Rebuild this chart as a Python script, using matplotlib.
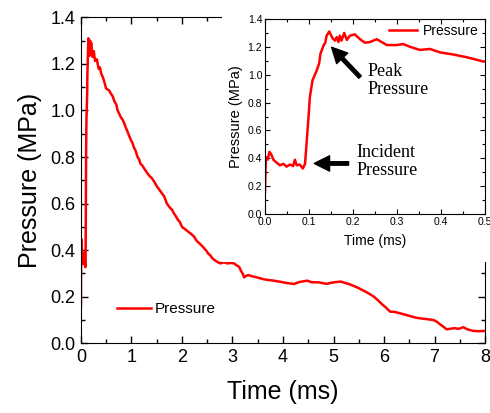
import matplotlib.pyplot as plt
from matplotlib.patches import Rectangle
from matplotlib.ticker import MultipleLocator

# pressure trace (first 0.5 ms from the inset)
time_early = [0.0, 0.002, 0.006, 0.010, 0.014, 0.019, 0.027, 0.034, 0.042, 0.049,
              0.057, 0.064, 0.068, 0.072, 0.079, 0.086, 0.091, 0.095, 0.099, 0.102,
              0.108, 0.112, 0.117, 0.123, 0.126, 0.133, 0.137, 0.140, 0.146, 0.149,
              0.154, 0.159, 0.163, 0.167, 0.170, 0.174, 0.180, 0.186, 0.193, 0.204,
              0.216, 0.227, 0.239, 0.254, 0.265, 0.277, 0.299, 0.314, 0.330, 0.352,
              0.375, 0.398, 0.428, 0.458, 0.496]
pres_early = [0.16, 0.41, 0.39, 0.446, 0.43, 0.39, 0.367, 0.35, 0.36, 0.34,
              0.355, 0.345, 0.39, 0.35, 0.355, 0.327, 0.36, 0.53, 0.70, 0.84,
              0.96, 0.99, 1.026, 1.08, 1.15, 1.21, 1.23, 1.28, 1.31, 1.29,
              1.26, 1.245, 1.27, 1.235, 1.28, 1.245, 1.30, 1.25, 1.28, 1.29,
              1.255, 1.23, 1.235, 1.255, 1.235, 1.213, 1.213, 1.22, 1.20, 1.178,
              1.185, 1.16, 1.145, 1.126, 1.095]

time_late = [0.56, 0.59, 0.63, 0.66, 0.70, 0.725, 0.76, 0.79, 0.82, 0.856,
             0.89, 0.92, 0.95, 0.988, 1.02, 1.05, 1.08, 1.12, 1.15, 1.18,
             1.21, 1.25, 1.30, 1.35, 1.40, 1.45, 1.50, 1.55, 1.60, 1.65,
             1.70, 1.77, 1.80, 1.84, 1.88, 1.92, 1.96, 2.0, 2.06, 2.12,
             2.18, 2.24, 2.29, 2.34, 2.39, 2.44, 2.48, 2.52, 2.56, 2.6,
             2.68, 2.76, 2.83, 2.9, 2.97, 3.03, 3.08, 3.13, 3.17, 3.2,
             3.23, 3.27, 3.32, 3.38, 3.45, 3.53, 3.62, 3.7, 3.82, 3.9,
             4.0, 4.1, 4.22, 4.32, 4.4, 4.48, 4.57, 4.7, 4.8, 4.87,
             4.95, 5.05, 5.14, 5.22, 5.3, 5.38, 5.47, 5.56, 5.65, 5.73,
             5.8, 5.88, 5.95, 6.03, 6.12, 6.2, 6.3, 6.38, 6.45, 6.55,
             6.63, 6.72, 6.8, 6.9, 6.98, 7.05, 7.1, 7.17, 7.24, 7.3,
             7.4, 7.48, 7.57, 7.65, 7.77, 7.87, 8.0]
pres_late = [1.085, 1.073, 1.06, 1.04, 1.025, 1.0, 0.985, 0.97, 0.962, 0.945,
             0.925, 0.91, 0.893, 0.873, 0.86, 0.84, 0.828, 0.80, 0.79, 0.77,
             0.765, 0.751, 0.735, 0.72, 0.71, 0.694, 0.675, 0.66, 0.645, 0.63,
             0.60, 0.58, 0.575, 0.558, 0.545, 0.53, 0.52, 0.50, 0.49, 0.48,
             0.47, 0.458, 0.44, 0.43, 0.42, 0.408, 0.398, 0.385, 0.378, 0.365,
             0.352, 0.343, 0.348, 0.343, 0.345, 0.343, 0.335, 0.329, 0.31, 0.30,
             0.283, 0.29, 0.293, 0.288, 0.285, 0.28, 0.275, 0.272, 0.269, 0.266,
             0.262, 0.258, 0.255, 0.263, 0.266, 0.269, 0.262, 0.262, 0.258, 0.255,
             0.26, 0.263, 0.265, 0.26, 0.255, 0.248, 0.24, 0.23, 0.22, 0.21,
             0.20, 0.185, 0.17, 0.155, 0.136, 0.135, 0.13, 0.125, 0.121, 0.115,
             0.11, 0.107, 0.105, 0.102, 0.10, 0.092, 0.083, 0.072, 0.06, 0.062,
             0.065, 0.062, 0.069, 0.06, 0.053, 0.052, 0.053]

time = time_early + time_late
pres = pres_early + pres_late

sans = 'Liberation Sans'
serif = 'Liberation Serif'

fig = plt.figure(figsize=(4.9, 4.13), dpi=100)

ax = fig.add_axes([0.1653, 0.1688, 0.8245, 0.7892], zorder=0)
ax.plot(time, pres, '-', color='#ff0000', lw=1.8, label='Pressure')
ax.set_xlim(0, 8)
ax.set_ylim(0, 1.4)
ax.xaxis.set_major_locator(MultipleLocator(1))
ax.xaxis.set_minor_locator(MultipleLocator(0.5))
ax.yaxis.set_major_locator(MultipleLocator(0.2))
ax.yaxis.set_minor_locator(MultipleLocator(0.1))
ax.tick_params(which='both', direction='in', top=True, right=True, width=1)
ax.tick_params(which='major', length=5, labelsize=13, pad=4)
ax.tick_params(which='minor', length=3)
ax.set_xticklabels([f'{v:g}' for v in ax.get_xticks()], fontfamily=sans)
ax.set_yticklabels([f'{v:.1f}' for v in ax.get_yticks()], fontfamily=sans)
ax.set_xlabel('Time (ms)', fontsize=18, fontfamily=sans, labelpad=10)
ax.set_ylabel('Pressure (MPa)', fontsize=18, fontfamily=sans, labelpad=6)
ax.legend(loc='lower left', bbox_to_anchor=(0.055, 0.04), frameon=False,
          prop={'family': sans, 'size': 11}, handlelength=2.2, handletextpad=0.3)

# white block behind the inset hides the main frame there
fig.patches.append(Rectangle((0.453, 0.366), 0.547, 0.634, transform=fig.transFigure,
                             facecolor='white', edgecolor='none', zorder=0.5))

ins = fig.add_axes([0.5408, 0.4818, 0.449, 0.4722], zorder=1)
ins.plot(time, pres, '-', color='#ff0000', lw=1.8, label='Pressure')
ins.set_xlim(0, 0.5)
ins.set_ylim(0, 1.4)
ins.xaxis.set_major_locator(MultipleLocator(0.1))
ins.xaxis.set_minor_locator(MultipleLocator(0.05))
ins.yaxis.set_major_locator(MultipleLocator(0.2))
ins.yaxis.set_minor_locator(MultipleLocator(0.1))
ins.tick_params(which='both', direction='in', top=True, right=True, width=0.8)
ins.tick_params(which='major', length=3.5, labelsize=7.5, pad=2)
ins.tick_params(which='minor', length=2)
ins.set_xticklabels([f'{v:.1f}' for v in ins.get_xticks()], fontfamily=sans)
ins.set_yticklabels([f'{v:.1f}' for v in ins.get_yticks()], fontfamily=sans)
ins.set_xlabel('Time (ms)', fontsize=10, fontfamily=sans, labelpad=5)
ins.set_ylabel('Pressure (MPa)', fontsize=10.5, fontfamily=sans, labelpad=3)
ins.legend(loc='upper right', bbox_to_anchor=(1.03, 1.04), frameon=False,
           prop={'family': sans, 'size': 10}, handlelength=2.0, handletextpad=0.45)

arrow = dict(facecolor='black', edgecolor='black', width=2.5, headwidth=11,
             headlength=11, shrink=0)
ins.annotate('', xy=(0.1515, 1.197), xytext=(0.216, 0.983), arrowprops=arrow)
ins.text(0.233, 0.96, 'Peak\nPressure', fontsize=13, fontfamily=serif,
         ha='left', va='center', linespacing=1.1)
ins.annotate('', xy=(0.112, 0.363), xytext=(0.19, 0.363), arrowprops=arrow)
ins.text(0.207, 0.375, 'Incident\nPressure', fontsize=13, fontfamily=serif,
         ha='left', va='center', linespacing=1.1)

fig.savefig('out.png', dpi=100)
